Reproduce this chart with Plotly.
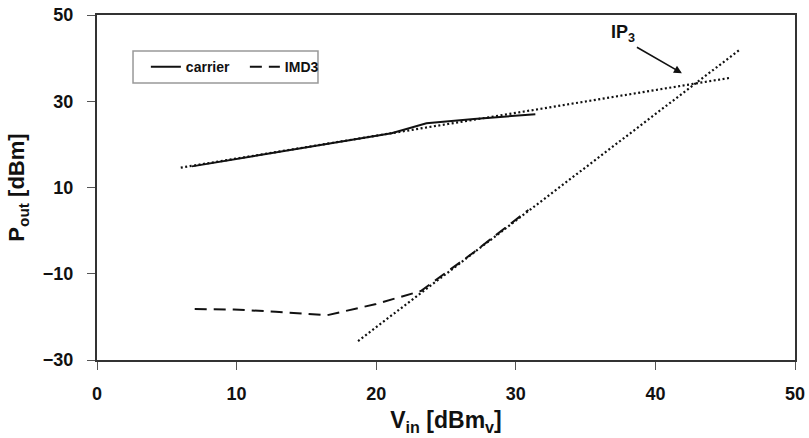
import plotly.graph_objects as go

# Measured carrier output power vs input level
carrier_vin = [6.8, 10.0, 15.0, 21.1, 23.6, 27.0, 31.4]
carrier_pout = [14.9, 16.6, 19.3, 22.6, 24.9, 25.9, 27.0]

# Measured third-order intermodulation product
imd3_vin = [7.0, 9.8, 12.8, 16.5, 20.0, 23.2, 27.0, 30.9]
imd3_pout = [-18.2, -18.3, -18.8, -19.6, -17.0, -14.0, -5.0, 4.8]

# Linear extrapolations used to locate the intercept point
carrier_fit_vin = [6.0, 45.3]
carrier_fit_pout = [14.6, 35.4]
imd3_fit_vin = [18.7, 46.1]
imd3_fit_pout = [-25.6, 42.1]

# Intercept annotation (arrow head location)
ip3_vin = 41.9
ip3_pout = 36.5

x_ticks = [0, 10, 20, 30, 40, 50]
y_ticks = [-30, -10, 10, 30, 50]

FONT = "Liberation Sans, Arial, sans-serif"
INK = "#111111"

fig = go.Figure()

fig.add_trace(go.Scatter(
    x=carrier_fit_vin, y=carrier_fit_pout, mode="lines",
    line=dict(color=INK, width=2.2, dash="2px,2.5px"),
    showlegend=False, hoverinfo="skip"))
fig.add_trace(go.Scatter(
    x=imd3_fit_vin, y=imd3_fit_pout, mode="lines",
    line=dict(color=INK, width=2.2, dash="2px,2.5px"),
    showlegend=False, hoverinfo="skip"))
fig.add_trace(go.Scatter(
    x=carrier_vin, y=carrier_pout, mode="lines", name="carrier",
    line=dict(color=INK, width=2)))
fig.add_trace(go.Scatter(
    x=imd3_vin, y=imd3_pout, mode="lines", name="IMD3",
    line=dict(color=INK, width=2, dash="12px,7px")))

fig.add_annotation(
    x=ip3_vin, y=ip3_pout, xref="x", yref="y",
    text="IP<sub>3</sub>", showarrow=True, arrowhead=2, arrowsize=1,
    arrowwidth=1.6, arrowcolor=INK, ax=-45, ay=-26,
    xanchor="right", yanchor="bottom",
    font=dict(family=FONT, size=18, color=INK, weight="bold"))

# Legend frame
fig.add_shape(
    type="rect", xref="paper", yref="paper",
    x0=0.0516, x1=0.3166, y0=0.803, y1=0.8957,
    line=dict(color="#999999", width=1.5), fillcolor="white", layer="below")

axis_common = dict(
    showgrid=False, zeroline=False, showline=True, linecolor="#333333",
    linewidth=2, mirror=True, ticks="outside", ticklen=8, tickwidth=1,
    tickcolor="#555555", automargin=False,
    tickfont=dict(family=FONT, size=18, color=INK, weight="bold"),
)

fig.update_xaxes(
    range=[0, 50], tickvals=x_ticks, ticklabelstandoff=8,
    title=dict(text="V<sub>in</sub> [dBm<sub>v</sub>]", standoff=9,
               font=dict(family=FONT, size=23, color=INK, weight="bold")),
    **axis_common)
fig.update_yaxes(
    range=[-30, 50], tickvals=y_ticks, ticklabelstandoff=10,
    title=dict(text="P<sub>out</sub> [dBm]", standoff=12,
               font=dict(family=FONT, size=22, color=INK, weight="bold")),
    **axis_common)

fig.update_layout(
    width=809, height=438,
    margin=dict(l=97, r=14, t=15, b=78),
    paper_bgcolor="white", plot_bgcolor="white",
    legend=dict(
        orientation="h", x=0.07, y=0.849, xanchor="left", yanchor="middle",
        borderwidth=0, bgcolor="rgba(0,0,0,0)",
        font=dict(family=FONT, size=14, color=INK, weight="bold"),
        itemwidth=30, tracegroupgap=0, entrywidth=54),
)

fig.write_html("out.html")
